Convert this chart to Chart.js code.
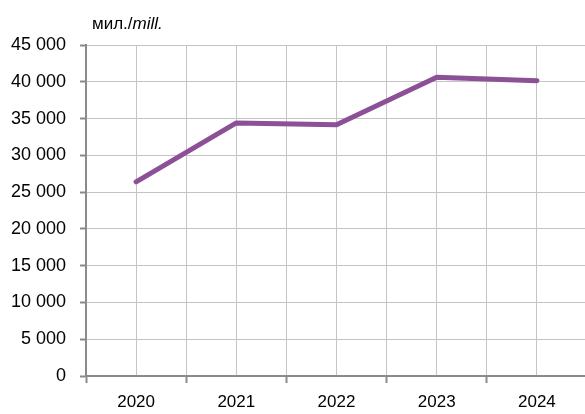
<!DOCTYPE html>
<html><head><meta charset="utf-8">
<script src="https://cdn.jsdelivr.net/npm/chart.js@4"></script>
<style>html,body{margin:0;padding:0;background:#fff;overflow:hidden}#wrap{width:596px;height:414px;position:relative}</style>
</head><body><div id="wrap"><canvas id="c"></canvas></div>
<script>
const categories = ['2020','2021','2022','2023','2024'];
const values = [26400, 34400, 34150, 40600, 40150];
const yTicks = [0,5000,10000,15000,20000,25000,30000,35000,40000,45000];
const unitLabel = ['мил./', 'mill.'];

const fmt = v => String(v).replace(/\B(?=(\d{3})+(?!\d))/g, ' ');
const FONT = '"Liberation Sans", Arial, sans-serif';

const titlePlugin = {
  id: 'unitTitle',
  afterDraw(chart) {
    const ctx = chart.ctx;
    ctx.save();
    ctx.fillStyle = '#000';
    ctx.textBaseline = 'alphabetic';
    let x = chart.chartArea.left + 6;
    const y = 29;
    ctx.font = '17px ' + FONT;
    ctx.fillText(unitLabel[0], x, y);
    x += ctx.measureText(unitLabel[0]).width;
    ctx.font = 'italic 17px ' + FONT;
    ctx.fillText(unitLabel[1], x, y);
    ctx.restore();
  }
};

new Chart(document.getElementById('c'), {
  type: 'line',
  data: {
    datasets: [{
      data: values.map((v, i) => ({x: i, y: v})),
      borderColor: '#8c5097',
      borderWidth: 5,
      pointRadius: 0,
      tension: 0,
      borderCapStyle: 'round',
      borderJoinStyle: 'round'
    }]
  },
  options: {
    responsive: true,
    maintainAspectRatio: false,
    animation: false,
    layout: {padding: {top: 45, right: 0, left: 0, bottom: 0}},
    plugins: {legend: {display: false}, tooltip: {enabled: false}},
    scales: {
      x: {
        type: 'linear',
        min: -0.5, max: categories.length - 0.5,
        afterBuildTicks(axis) {
          const t = [];
          for (let i = 0; i <= categories.length * 2; i++) t.push({value: -0.5 + i * 0.5});
          axis.ticks = t;
        },
        afterFit(axis) { axis.height = 38; },
        ticks: {
          autoSkip: false, maxRotation: 0,
          color: '#000', font: {family: FONT, size: 17}, padding: 9,
          callback: v => Number.isInteger(v) ? categories[v] : ''
        },
        grid: {
          color: '#c4c4c4', lineWidth: 1,
          tickLength: 7,
          tickColor: ctx => Number.isInteger(ctx.tick.value) ? 'rgba(0,0,0,0)' : '#8a8a8a',
          tickWidth: 2
        },
        border: {color: '#8a8a8a', width: 2}
      },
      y: {
        min: 0, max: 45000,
        afterBuildTicks(axis) { axis.ticks = yTicks.map(v => ({value: v})); },
        afterFit(axis) { axis.width = 86; },
        ticks: {color: '#000', font: {family: FONT, size: 18}, padding: 14, callback: v => fmt(v)},
        grid: {color: '#c4c4c4', lineWidth: 1, tickLength: 6, tickColor: '#8a8a8a', tickWidth: 2},
        border: {color: '#8a8a8a', width: 2}
      }
    }
  },
  plugins: [titlePlugin]
});
</script></body></html>
